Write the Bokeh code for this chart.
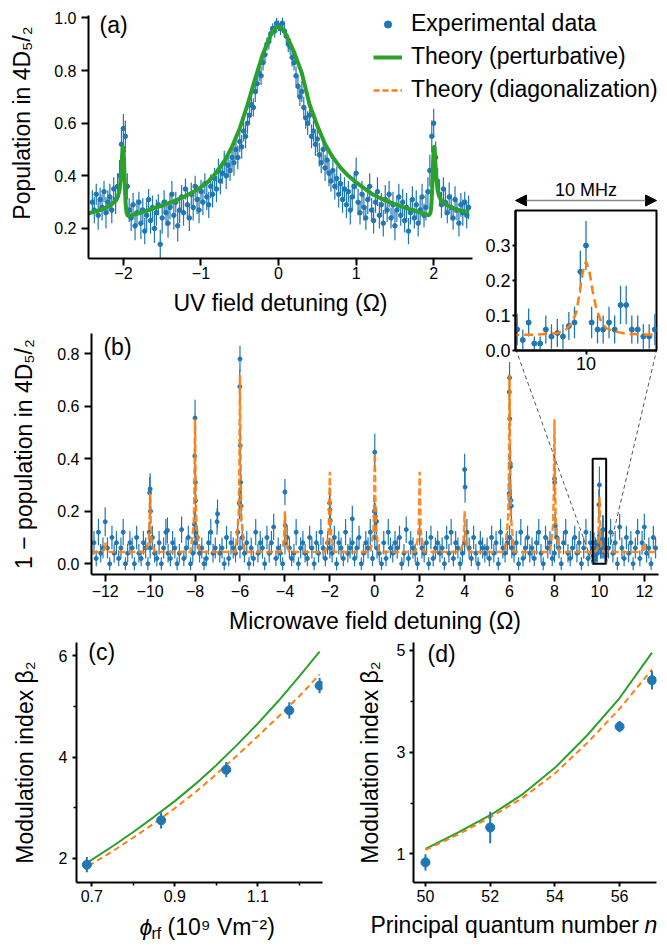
from math import pi
from bokeh.plotting import figure
from bokeh.models import (Range1d, FixedTicker, NumeralTickFormatter, Label, Legend,
                          LegendItem, Arrow, NormalHead, ColumnDataSource)
from bokeh.embed import file_html
from bokeh.resources import INLINE

# ---------------- panel (a) data ----------------
A_X = [-2.4, -2.375, -2.35, -2.325, -2.3, -2.275, -2.25, -2.225, -2.2, -2.175,
       -2.15, -2.125, -2.1, -2.075, -2.05, -2.025, -2.0, -1.975, -1.95, -1.925,
       -1.9, -1.875, -1.85, -1.825, -1.8, -1.775, -1.75, -1.725, -1.7, -1.675,
       -1.65, -1.625, -1.6, -1.575, -1.55, -1.525, -1.5, -1.475, -1.45, -1.425,
       -1.4, -1.375, -1.35, -1.325, -1.3, -1.275, -1.25, -1.225, -1.2, -1.175,
       -1.15, -1.125, -1.1, -1.075, -1.05, -1.025, -1.0, -0.975, -0.95, -0.925,
       -0.9, -0.875, -0.85, -0.825, -0.8, -0.775, -0.75, -0.725, -0.7, -0.675,
       -0.65, -0.625, -0.6, -0.575, -0.55, -0.525, -0.5, -0.475, -0.45, -0.425,
       -0.4, -0.375, -0.35, -0.325, -0.3, -0.275, -0.25, -0.225, -0.2, -0.175,
       -0.15, -0.125, -0.1, -0.075, -0.05, -0.025, 0.0, 0.025, 0.05, 0.075,
       0.1, 0.125, 0.15, 0.175, 0.2, 0.225, 0.25, 0.275, 0.3, 0.325,
       0.35, 0.375, 0.4, 0.425, 0.45, 0.475, 0.5, 0.525, 0.55, 0.575,
       0.6, 0.625, 0.65, 0.675, 0.7, 0.725, 0.75, 0.775, 0.8, 0.825,
       0.85, 0.875, 0.9, 0.925, 0.95, 0.975, 1.0, 1.025, 1.05, 1.075,
       1.1, 1.125, 1.15, 1.175, 1.2, 1.225, 1.25, 1.275, 1.3, 1.325,
       1.35, 1.375, 1.4, 1.425, 1.45, 1.475, 1.5, 1.525, 1.55, 1.575,
       1.6, 1.625, 1.65, 1.675, 1.7, 1.725, 1.75, 1.775, 1.8, 1.825,
       1.85, 1.875, 1.9, 1.925, 1.95, 1.975, 2.0, 2.025, 2.05, 2.075,
       2.1, 2.125, 2.15, 2.175, 2.2, 2.225, 2.25, 2.275, 2.3, 2.325,
       2.35, 2.375, 2.4, 2.425, 2.45]
A_Y = [.30, .27, .33, .25, .31, .28, .34, .26, .30, .32,
       .27, .35, .31, .36, .40, .52, .58, .55, .36, .27,
       .24, .29, .21, .26, .30, .22, .27, .19, .25, .31,
       .23, .28, .20, .26, .29, .14, .24, .30, .26, .22,
       .28, .33, .25, .30, .21, .27, .32, .26, .35, .29,
       .24, .33, .28, .36, .31, .27, .34, .30, .37, .32,
       .29, .36, .33, .39, .35, .42, .38, .41, .45, .40,
       .44, .42, .47, .45, .50, .47, .53, .51, .57, .55,
       .60, .63, .67, .66, .72, .75, .79, .78, .83, .86,
       .90, .91, .94, .96, .95, .98, .97, .96, .98, .95,
       .93, .90, .89, .85, .83, .78, .74, .70, .72, .66,
       .62, .60, .63, .55, .57, .52, .54, .48, .45, .50,
       .43, .46, .41, .38, .42, .36, .39, .33, .37, .31,
       .35, .29, .34, .27, .32, .36, .41, .30, .26, .33,
       .28, .24, .31, .36, .27, .23, .30, .34, .25, .29,
       .22, .31, .27, .33, .24, .29, .21, .27, .32, .25,
       .30, .23, .28, .19, .26, .31, .24, .29, .22, .27,
       .32, .25, .28, .34, .42, .55, .60, .47, .38, .33,
       .29, .35, .30, .26, .32, .28, .24, .31, .27, .22,
       .29, .26, .30, .25, .28]
A_E = [.045, .05, .04, .055, .045, .05, .04, .06, .045, .05,
       .05, .045, .055, .05, .06, .06, .055, .06, .05, .045,
       .05, .045, .055, .05, .04, .06, .045, .05, .055, .04,
       .05, .045, .055, .05, .04, .055, .06, .045, .05, .055,
       .045, .05, .055, .04, .06, .05, .045, .05, .04, .055,
       .05, .045, .05, .04, .055, .05, .045, .05, .04, .05,
       .05, .045, .05, .04, .05, .045, .05, .04, .045, .05,
       .045, .04, .045, .05, .04, .045, .04, .045, .04, .045,
       .04, .035, .04, .035, .04, .035, .03, .035, .03, .03,
       .025, .03, .025, .02, .025, .02, .02, .025, .02, .025,
       .025, .03, .03, .035, .03, .035, .04, .035, .04, .04,
       .04, .045, .04, .045, .04, .045, .05, .045, .04, .045,
       .05, .045, .05, .04, .045, .05, .045, .05, .04, .05,
       .045, .05, .04, .055, .05, .045, .06, .05, .045, .05,
       .05, .045, .055, .05, .045, .05, .04, .055, .05, .045,
       .05, .055, .045, .05, .04, .05, .055, .045, .05, .04,
       .05, .045, .055, .05, .045, .05, .04, .055, .05, .045,
       .05, .045, .05, .055, .06, .06, .055, .06, .05, .045,
       .05, .045, .05, .04, .055, .05, .045, .05, .04, .05,
       .045, .05, .04, .05, .045]
A_TX = [-2.45, -2.35, -2.25, -2.15, -2.10, -2.07, -2.05, -2.03, -2.02, -2.01,
        -2.00, -1.99, -1.98, -1.97, -1.96, -1.94, -1.90, -1.80, -1.70, -1.60,
        -1.50, -1.40, -1.30, -1.20, -1.10, -1.00, -0.90, -0.80, -0.70, -0.60,
        -0.50, -0.40, -0.30, -0.20, -0.10, -0.05, 0.00, 0.05, 0.10, 0.20,
        0.30, 0.40, 0.50, 0.60, 0.70, 0.80, 0.90, 1.00, 1.10, 1.20,
        1.30, 1.40, 1.50, 1.60, 1.70, 1.80, 1.90, 1.94, 1.96, 1.97,
        1.98, 1.99, 2.00, 2.01, 2.02, 2.03, 2.05, 2.07, 2.10, 2.15,
        2.25, 2.35, 2.45]
A_TY = [0.258, 0.265, 0.275, 0.292, 0.305, 0.322, 0.345, 0.40, 0.46, 0.51,
        0.51, 0.44, 0.35, 0.29, 0.26, 0.247, 0.25, 0.258, 0.267, 0.277,
        0.287, 0.298, 0.31, 0.323, 0.339, 0.357, 0.38, 0.413, 0.455, 0.51,
        0.58, 0.67, 0.77, 0.865, 0.935, 0.958, 0.968, 0.958, 0.935, 0.87,
        0.79, 0.67, 0.59, 0.52, 0.47, 0.43, 0.40, 0.375, 0.353, 0.332,
        0.317, 0.304, 0.293, 0.282, 0.272, 0.263, 0.254, 0.25, 0.262, 0.29,
        0.35, 0.44, 0.51, 0.51, 0.46, 0.40, 0.345, 0.322, 0.305, 0.292,
        0.277, 0.268, 0.262]

# ---------------- panel (b) data ----------------
B_X = [-12.5, -12.4, -12.3, -12.2, -12.1,
       -12.0, -11.9, -11.8, -11.7, -11.6, -11.5, -11.4, -11.3, -11.2, -11.1,
       -11.0, -10.9, -10.8, -10.7, -10.6, -10.5, -10.4, -10.3, -10.2, -10.1,
       -10.0, -9.9, -9.8, -9.7, -9.6, -9.5, -9.4, -9.3, -9.2, -9.1,
       -9.0, -8.9, -8.8, -8.7, -8.6, -8.5, -8.4, -8.3, -8.2, -8.1,
       -8.0, -7.9, -7.8, -7.7, -7.6, -7.5, -7.4, -7.3, -7.2, -7.1,
       -7.0, -6.9, -6.8, -6.7, -6.6, -6.5, -6.4, -6.3, -6.2, -6.1,
       -6.0, -5.9, -5.8, -5.7, -5.6, -5.5, -5.4, -5.3, -5.2, -5.1,
       -5.0, -4.9, -4.8, -4.7, -4.6, -4.5, -4.4, -4.3, -4.2, -4.1,
       -4.0, -3.9, -3.8, -3.7, -3.6, -3.5, -3.4, -3.3, -3.2, -3.1,
       -3.0, -2.9, -2.8, -2.7, -2.6, -2.5, -2.4, -2.3, -2.2, -2.1,
       -2.0, -1.9, -1.8, -1.7, -1.6, -1.5, -1.4, -1.3, -1.2, -1.1,
       -1.0, -0.9, -0.8, -0.7, -0.6, -0.5, -0.4, -0.3, -0.2, -0.1,
       0.0, 0.1, 0.2, 0.3, 0.4, 0.5, 0.6, 0.7, 0.8, 0.9,
       1.0, 1.1, 1.2, 1.3, 1.4, 1.5, 1.6, 1.7, 1.8, 1.9,
       2.0, 2.1, 2.2, 2.3, 2.4, 2.5, 2.6, 2.7, 2.8, 2.9,
       3.0, 3.1, 3.2, 3.3, 3.4, 3.5, 3.6, 3.7, 3.8, 3.9,
       4.0, 4.1, 4.2, 4.3, 4.4, 4.5, 4.6, 4.7, 4.8, 4.9,
       5.0, 5.1, 5.2, 5.3, 5.4, 5.5, 5.6, 5.7, 5.8, 5.9,
       6.0, 6.1, 6.2, 6.3, 6.4, 6.5, 6.6, 6.7, 6.8, 6.9,
       7.0, 7.1, 7.2, 7.3, 7.4, 7.5, 7.6, 7.7, 7.8, 7.9,
       8.0, 8.1, 8.2, 8.3, 8.4, 8.5, 8.6, 8.7, 8.8, 8.9,
       9.0, 9.1, 9.2, 9.3, 9.4, 9.5, 9.6,
       10.4, 10.5, 10.6, 10.7, 10.8, 10.9,
       11.0, 11.1, 11.2, 11.3, 11.4, 11.5, 11.6, 11.7, 11.8, 11.9,
       12.0, 12.1, 12.2, 12.3, 12.4, 12.5]
B_Y = [.08, .02, .12, .04, .06,
       .16, .06, 0, .10, .04, .08, .02, .06, .12, 0,
       .04, .08, .06, 0, .10, .04, .02, .08, .06, 0,
       .06, .10, .04, .02, .08, 0, .06, .12, .04, .02,
       .08, .06, 0, .04, .13, .02, .06, .10, 0, .04,
       .08, .10, .04, .06, 0, .02, .08, .12, .04, .06,
       .19, .04, .06, 0, .10, .02, .08, .06, .04, .12,
       .06, .10, .04, .08, 0, .06, .02, .12, .04, .08,
       .06, 0, .10, .04, .08, .14, .02, .06, .04, 0,
       .08, .10, .06, .02, .04, .12, 0, .06, .08, .04,
       .02, .10, .06, 0, .08, .04, .12, .06, .02, .08,
       .06, .04, .10, 0, .08, .06, .02, .12, .04, .06,
       .08, .02, .06, .10, 0, .04, .08, .06, .12, .02,
       .10, .06, .04, 0, .08, .02, .12, .06, .04, .08,
       .06, .10, 0, .04, .13, .02, .08, .06, .04, 0,
       .12, .06, .04, .08, 0, .10, .02, .06, .08, .04,
       .06, 0, .10, .04, .12, .02, .08, .06, 0, .04,
       .08, .12, .06, .02, .10, .04, 0, .08, .06, .04,
       .06, .02, .10, .04, .08, 0, .12, .06, .04, .08,
       .10, .06, .04, .08, 0, .12, .02, .06, .10, .04,
       .06, .02, .08, .12, .04, 0, .10, .06, .08, .02,
       .04, .10, .06, 0, .08, .12, .04, .02, .06, .10,
       .04, .08, 0, .06, .12, .02, .08,
       .06, .12, .04, .08, 0, .14,
       .06, .02, .10, .04, .08, 0, .06, .12, .02, .08,
       .14, .04, .06, 0, .10, .06]
B_E = [.045, .03, .05, .035, .04,
       .055, .04, .025, .045, .035, .045, .03, .04, .05, .025,
       .035, .045, .04, .025, .045, .035, .03, .045, .04, .025,
       .04, .045, .035, .03, .045, .025, .04, .05, .035, .03,
       .045, .04, .025, .035, .05, .03, .04, .045, .025, .035,
       .045, .045, .035, .04, .025, .03, .045, .05, .035, .04,
       .055, .035, .04, .025, .045, .03, .045, .04, .035, .05,
       .04, .045, .035, .045, .025, .04, .03, .05, .035, .045,
       .04, .025, .045, .035, .045, .05, .03, .04, .035, .025,
       .045, .045, .04, .03, .035, .05, .025, .04, .045, .035,
       .03, .045, .04, .025, .045, .035, .05, .04, .03, .045,
       .04, .035, .045, .025, .045, .04, .03, .05, .035, .04,
       .045, .03, .04, .045, .025, .035, .045, .04, .05, .03,
       .045, .04, .035, .025, .045, .03, .05, .04, .035, .045,
       .04, .045, .025, .035, .05, .03, .045, .04, .035, .025,
       .05, .04, .035, .045, .025, .045, .03, .04, .045, .035,
       .04, .025, .045, .035, .05, .03, .045, .04, .025, .035,
       .045, .05, .04, .03, .045, .035, .025, .045, .04, .035,
       .04, .03, .045, .035, .045, .025, .05, .04, .035, .045,
       .045, .04, .035, .045, .025, .05, .03, .04, .045, .035,
       .04, .03, .045, .05, .035, .025, .045, .04, .045, .03,
       .035, .045, .04, .025, .045, .05, .035, .03, .04, .045,
       .035, .045, .025, .04, .05, .03, .045,
       .04, .05, .035, .045, .025, .05,
       .04, .03, .045, .035, .045, .025, .04, .05, .03, .045,
       .05, .035, .04, .025, .045, .04]
# points on the resonances
P_X = [-10.04, -10.02, -10.0, -9.98, -9.23,
       -8.03, -8.01, -8.0, -7.99, -7.98, -7.96, -7.02,
       -6.03, -6.01, -6.0, -5.99, -5.97, -5.95,
       -4.0, -3.99, -2.01, -2.0, -1.98, -1.0,
       -0.02, 0.0, 0.02, 0.08, 4.0, 4.02,
       5.98, 5.99, 6.0, 6.01, 6.03, 6.04, 6.06, 6.08,
       8.0, 8.01, 8.03]
P_Y = [.12, .27, .285, .20, .127,
       .15, .41, .555, .31, .24, .12, .16,
       .23, .675, .78, .45, .31, .22,
       .273, .146, .231, .206, .165, .171,
       .20, .425, .18, .161, .359, .292,
       .267, .654, .708, .552, .381, .37, .241, .22,
       .324, .31, .146]
P_E = [.04, .06, .06, .05, .05,
       .05, .07, .07, .06, .06, .05, .05,
       .06, .065, .05, .07, .065, .06,
       .05, .05, .06, .06, .05, .05,
       .06, .07, .05, .05, .06, .06,
       .06, .07, .06, .07, .07, .07, .06, .06,
       .07, .07, .05]
# points of the zoomed resonance (inset)
I_X = [9.707, 9.731, 9.756, 9.780, 9.805, 9.829, 9.853, 9.878, 9.902, 9.927,
       9.951, 9.976, 10.0, 10.024, 10.049, 10.073, 10.098, 10.122, 10.147, 10.171,
       10.195, 10.220, 10.244, 10.269, 10.293]
I_Y = [.06, .03, .08, .02, .02, .06, .04, .05, .04, .07,
       .08, .225, .30, .08, .06, .06, .08, .06, .13, .13,
       .06, .06, .04, .04, .06]
I_E = [.045, .03, .04, .02, .02, .04, .035, .04, .035, .04,
       .045, .06, .07, .045, .04, .04, .045, .04, .055, .055,
       .04, .04, .035, .035, .045]
# theory (diagonalization) for (b)
B_TX = [-12.6, -12.2, -12.06, -12.03, -12.0, -11.97, -11.94, -11.8,
        -10.2, -10.06, -10.03, -10.0, -9.97, -9.94, -9.8,
        -8.2, -8.06, -8.03, -8.0, -7.97, -7.94, -7.8,
        -6.2, -6.06, -6.03, -6.0, -5.97, -5.94, -5.8,
        -4.2, -4.06, -4.03, -4.0, -3.97, -3.94, -3.8,
        -2.2, -2.06, -2.03, -2.0, -1.97, -1.94, -1.8,
        -0.2, -0.06, -0.03, 0.0, 0.03, 0.06, 0.2,
        1.8, 1.94, 1.97, 2.0, 2.03, 2.06, 2.2,
        3.8, 3.94, 3.97, 4.0, 4.03, 4.06, 4.2,
        5.8, 5.94, 5.97, 6.0, 6.03, 6.06, 6.2,
        7.8, 7.94, 7.97, 8.0, 8.03, 8.06, 8.2,
        9.703, 9.78, 9.88, 9.915, 9.94, 9.958, 9.972, 9.986, 10.0, 10.014,
        10.028, 10.043, 10.061, 10.085, 10.12, 10.177, 10.297,
        11.8, 11.94, 11.97, 12.0, 12.03, 12.06, 12.2, 12.6]
B_TY = [.045, .045, .052, .06, .08, .06, .052, .045,
        .045, .09, .146, .27, .146, .09, .045,
        .045, .146, .272, .55, .272, .146, .045,
        .045, .18, .349, .72, .349, .18, .045,
        .045, .076, .115, .20, .115, .076, .045,
        .045, .106, .182, .35, .182, .106, .045,
        .045, .12, .214, .42, .214, .12, .045,
        .045, .106, .182, .35, .182, .106, .045,
        .045, .076, .115, .20, .115, .076, .045,
        .045, .18, .349, .72, .349, .18, .045,
        .045, .146, .272, .55, .272, .146, .045,
        .045, .045, .05, .06, .079, .108, .16, .223, .255, .228,
        .17, .122, .088, .064, .055, .047, .045,
        .045, .052, .06, .08, .06, .052, .045, .045]

# ---------------- panels (c) and (d) ----------------
C_X = [0.688, 0.867, 1.024, 1.176, 1.249]
C_Y = [1.875, 2.75, 3.75, 4.92, 5.41]
C_E = [0.15, 0.16, 0.15, 0.16, 0.15]
C_TX = [0.692, 0.75, 0.8, 0.85, 0.9, 0.95, 1.0, 1.05, 1.1, 1.15, 1.2, 1.249]
C_PERT = [1.93, 2.24, 2.52, 2.82, 3.13, 3.47, 3.84, 4.24, 4.66, 5.11, 5.59, 6.08]
C_DIAG = [1.85, 2.14, 2.41, 2.69, 2.99, 3.31, 3.66, 4.03, 4.41, 4.80, 5.20, 5.63]

D_X = [50, 52, 56, 57]
D_Y = [0.835, 1.52, 3.50, 4.41]
D_E = [0.16, 0.31, 0.11, 0.18]
D_TX = [50, 51, 52, 53, 54, 55, 56, 57]
D_PERT = [1.10, 1.42, 1.76, 2.17, 2.69, 3.33, 4.06, 4.95]
D_DIAG = [1.08, 1.38, 1.72, 2.10, 2.58, 3.18, 3.85, 4.62]

# ---------------- layout constants ----------------
W, H = 651, 934
FONT = "Liberation Sans"
BLUE, GREEN, ORANGE = "#1f77b4", "#2ca02c", "#ff7f0e"
# frames: (left, right, top, bottom) in canvas px
FA = (80, 464, 7, 250)
FB = (80, 650, 325, 566)
FI = (507, 648, 202, 342)
FC = (65, 314, 634, 874)
FD = (405, 648, 634, 874)
FL = (355, 651, 0, 110)          # legend area
XR_A, YR_A = (-2.45, 2.5), (0.086, 1.009)
XR_B, YR_B = (-12.61, 12.63), (-0.041, 0.877)
XR_I, YR_I = (9.7, 10.3), (0.0, 0.40)
XR_C, YR_C = (0.663, 1.256), (1.524, 6.26)
XR_D, YR_D = (49.63, 57.14), (0.44, 5.15)


def dx(frame, xr, px):
    return xr[0] + (px - frame[0]) * (xr[1] - xr[0]) / (frame[1] - frame[0])


def dy(frame, yr, py):
    return yr[1] - (py - frame[2]) * (yr[1] - yr[0]) / (frame[3] - frame[2])


def make_fig(frame, xr, yr, axes=True):
    l, r, t, b = frame
    kw = {} if axes else dict(x_axis_type=None, y_axis_type=None)
    p = figure(width=W, height=H, x_range=Range1d(*xr), y_range=Range1d(*yr),
               output_backend="svg", toolbar_location=None, title_location=None,
               min_border_left=l, min_border_right=W - r,
               min_border_top=t, min_border_bottom=H - b,
               styles={"position": "absolute", "left": "8px", "top": "8px"}, **kw)
    p.border_fill_color = None
    p.background_fill_color = None
    p.outline_line_color = None
    p.xgrid.grid_line_color = None
    p.ygrid.grid_line_color = None
    return p


def style(ax, tick_out, standoff, size="16px", lw=2):
    ax.axis_line_width = lw
    ax.axis_line_color = "black"
    ax.major_tick_line_width = lw
    ax.major_tick_line_color = "black"
    ax.major_tick_out = tick_out
    ax.major_tick_in = 0
    ax.minor_tick_line_width = 1.5
    ax.minor_tick_line_color = "black"
    ax.minor_tick_out = max(tick_out - 1, 2)
    ax.minor_tick_in = 0
    ax.major_label_text_font = FONT
    ax.major_label_text_font_size = size
    ax.major_label_text_color = "black"
    ax.major_label_standoff = standoff
    ax.axis_label_text_font = FONT
    ax.axis_label_text_font_size = "23px"
    ax.axis_label_text_font_style = "normal"
    ax.axis_label_text_color = "black"


def text(p, frame, xr, yr, px, py, s, size="23px", style_="normal", angle=0.0,
         align="left", baseline="middle"):
    p.add_layout(Label(x=dx(frame, xr, px), y=dy(frame, yr, py), text=s,
                       text_font=FONT, text_font_size=size, text_font_style=style_,
                       text_color="black", angle=angle, text_align=align,
                       text_baseline=baseline))


def errsrc(xs, ys, es):
    return ColumnDataSource(dict(x=xs, y=ys,
                                 lo=[y - e for y, e in zip(ys, es)],
                                 hi=[y + e for y, e in zip(ys, es)]))


MINUS = {-12: "\u221212", -10: "\u221210", -8: "\u22128", -6: "\u22126",
         -4: "\u22124", -2: "\u22122", -1: "\u22121"}

# ---------------- (a) ----------------
pa = make_fig(FA, XR_A, YR_A)
xa, ya = pa.xaxis[0], pa.yaxis[0]
style(xa, 7, 1)
style(ya, 7, 5)
xa.ticker = FixedTicker(ticks=[-2, -1, 0, 1, 2])
xa.major_label_overrides = MINUS
ya.ticker = FixedTicker(ticks=[0.2, 0.4, 0.6, 0.8, 1.0])
ya.formatter = NumeralTickFormatter(format="0.0")
xa.axis_label = "UV field detuning (\u03a9)"
xa.axis_label_standoff = 8
src_a = errsrc(A_X, A_Y, A_E)
pa.segment("x", "lo", "x", "hi", source=src_a, line_color=BLUE, line_width=1.2)
pa.scatter("x", "y", source=src_a, size=4.5, color=BLUE)
pa.line(A_TX, A_TY, line_color=GREEN, line_width=4)
text(pa, FA, XR_A, YR_A, 91, 16, "(a)")

# ---------------- (b) ----------------
pb = make_fig(FB, XR_B, YR_B)
xb, yb = pb.xaxis[0], pb.yaxis[0]
style(xb, 7, 3)
style(yb, 7, 5)
xb.ticker = FixedTicker(ticks=list(range(-12, 13, 2)))
xb.major_label_overrides = MINUS
yb.ticker = FixedTicker(ticks=[0.0, 0.2, 0.4, 0.6, 0.8])
yb.formatter = NumeralTickFormatter(format="0.0")
xb.axis_label = "Microwave field detuning (\u03a9)"
xb.axis_label_standoff = 8
yb.axis_label = "1 \u2212 population in 4D\u2085/\u2082"
yb.axis_label_standoff = 17
src_b = errsrc(B_X + P_X + I_X, B_Y + P_Y + I_Y, B_E + P_E + I_E)
pb.segment("x", "lo", "x", "hi", source=src_b, line_color=BLUE, line_width=1.2)
pb.scatter("x", "y", source=src_b, size=4, color=BLUE)
pb.line(B_TX, B_TY, line_color=ORANGE, line_width=2.5, line_dash="7 3", line_alpha=0.9)
pb.quad(left=[XR_I[0]], right=[XR_I[1]], bottom=[YR_I[0]], top=[YR_I[1]],
        fill_color=None, line_color="black", line_width=2)
corner_y = dy(FB, YR_B, FI[3])
pb.segment(x0=[XR_I[0], XR_I[1]], y0=[YR_I[0], YR_I[0]],
           x1=[dx(FB, XR_B, FI[0]), dx(FB, XR_B, FI[1])], y1=[corner_y, corner_y],
           line_color="#555555", line_width=1, line_dash="4 3")
text(pb, FB, XR_B, YR_B, 92, 338, "(b)")

# ---------------- inset ----------------
pin = make_fig(FI, XR_I, YR_I)
pin.background_fill_color = "white"
pin.outline_line_color = "black"
pin.outline_line_width = 2
xi, yi = pin.xaxis[0], pin.yaxis[0]
style(xi, 4, 2, size="18px")
style(yi, 3, 2, size="18px")
xi.ticker = FixedTicker(ticks=[10])
yi.ticker = FixedTicker(ticks=[0.0, 0.1, 0.2, 0.3])
yi.formatter = NumeralTickFormatter(format="0.0")
src_i = errsrc(I_X, I_Y, I_E)
pin.segment("x", "lo", "x", "hi", source=src_i, line_color=BLUE, line_width=1.3)
pin.scatter("x", "y", source=src_i, size=5, color=BLUE)
pin.line(B_TX, B_TY, line_color=ORANGE, line_width=2.5, line_dash="9 5")

# ---------------- (c) ----------------
pc = make_fig(FC, XR_C, YR_C)
xc, yc = pc.xaxis[0], pc.yaxis[0]
style(xc, 4, 3)
style(yc, 4, 5)
xc.ticker = FixedTicker(ticks=[0.7, 0.9, 1.1], minor_ticks=[0.8, 1.0, 1.2])
xc.formatter = NumeralTickFormatter(format="0.0")
yc.ticker = FixedTicker(ticks=[2, 4, 6], minor_ticks=[3, 5])
yc.axis_label = "Modulation index \u03b2\u2082"
yc.axis_label_standoff = 18
pc.line(C_TX, C_PERT, line_color=GREEN, line_width=2)
pc.line(C_TX, C_DIAG, line_color=ORANGE, line_width=2, line_dash="6 4")
src_c = errsrc(C_X, C_Y, C_E)
pc.segment("x", "lo", "x", "hi", source=src_c, line_color=BLUE, line_width=2)
pc.scatter("x", "y", source=src_c, size=9, color=BLUE)
text(pc, FC, XR_C, YR_C, 77, 643, "(c)")

# ---------------- (d) ----------------
pd_ = make_fig(FD, XR_D, YR_D)
xd, yd = pd_.xaxis[0], pd_.yaxis[0]
style(xd, 4, 3)
style(yd, 4, 4)
xd.ticker = FixedTicker(ticks=[50, 52, 54, 56])
yd.ticker = FixedTicker(ticks=[1, 3, 5], minor_ticks=[2, 4])
yd.axis_label = "Modulation index \u03b2\u2082"
yd.axis_label_standoff = 11
pd_.line(D_TX, D_PERT, line_color=GREEN, line_width=2)
pd_.line(D_TX, D_DIAG, line_color=ORANGE, line_width=2, line_dash="6 4")
src_d = errsrc(D_X, D_Y, D_E)
pd_.segment("x", "lo", "x", "hi", source=src_d, line_color=BLUE, line_width=2)
pd_.scatter("x", "y", source=src_d, size=9, color=BLUE)
text(pd_, FD, XR_D, YR_D, 419, 645, "(d)")

# ---------------- legend (its own frame; the data lie outside its view) ----------------
pl = make_fig(FL, (100, 101), (100, 101), axes=False)
l_pts = pl.scatter("x", "y", source=src_a, size=4.5, color=BLUE)
l_pert = pl.line(A_TX, A_TY, line_color=GREEN, line_width=4)
l_diag = pl.line(B_TX, B_TY, line_color=ORANGE, line_width=2.5, line_dash="6 3")
pl.add_layout(Legend(
    items=[LegendItem(label="Experimental data", renderers=[l_pts]),
           LegendItem(label="Theory (perturbative)", renderers=[l_pert]),
           LegendItem(label="Theory (diagonalization)", renderers=[l_diag])],
    location=(10, 15), glyph_width=29, glyph_height=18, label_height=18,
    label_standoff=9, spacing=6, padding=0, margin=0,
    border_line_color=None, background_fill_alpha=0,
    label_text_font=FONT, label_text_font_size="23px", label_text_color="black"))

# ---------------- texts outside the frames (canvas-pixel overlay) ----------------
FO = (0, W, 0, H)
XO, YO = (0, W), (H, 0)
po = make_fig(FO, XO, YO, axes=False)
text(po, FO, XO, YO, 13, 114.5, "Population in 4D\u2085/\u2082", angle=pi / 2,
     align="center")
po.add_layout(Arrow(x_start=FI[0], x_end=FI[1], y_start=192, y_end=192,
                    line_color="#888888", line_width=1.5,
                    start=NormalHead(size=11, fill_color="black", line_color="black"),
                    end=NormalHead(size=11, fill_color="black", line_color="black")))
text(po, FO, XO, YO, (FI[0] + FI[1]) / 2, 181, "10 MHz", size="18px", align="center")
text(po, FO, XO, YO, 131, 918, "\u03d5", style_="italic")
text(po, FO, XO, YO, 143, 924.5, "rf", size="16px")
text(po, FO, XO, YO, 159, 918, "(10\u2079 Vm\u207b\u00b2)")
text(po, FO, XO, YO, 362, 916.5, "Principal quantum number")
text(po, FO, XO, YO, 636, 916.5, "n", style_="italic")

open("out.html", "w").write(file_html([pa, pb, pc, pd_, pin, pl, po], INLINE))
